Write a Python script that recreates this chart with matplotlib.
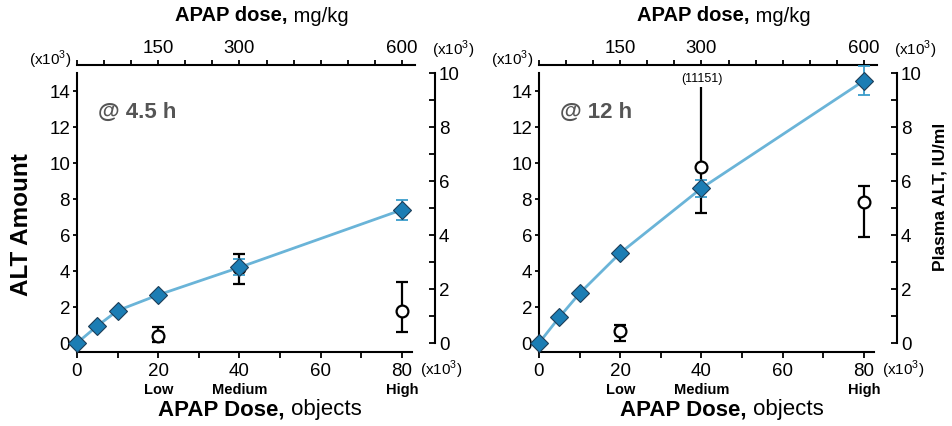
import matplotlib
matplotlib.use("Agg")
import matplotlib.pyplot as plt
from matplotlib.ticker import MultipleLocator, FixedLocator, FuncFormatter

plt.rcParams['font.family'] = ['Liberation Sans', 'DejaVu Sans']
plt.rcParams['mathtext.fontset'] = 'custom'
plt.rcParams['mathtext.rm'] = 'Liberation Sans'

# data
doses = [0, 5, 10, 20, 40, 80]               # objects (x10^3)
alt_45 = [0, 0.95, 1.8, 2.67, 4.2, 7.4]      # ALT amount (x10^3)
alt_45_err = [0, 0, 0, 0, 0.45, 0.55]
alt_12 = [0, 1.43, 2.76, 5.0, 8.6, 14.57]
alt_12_err = [0, 0, 0, 0, 0.47, 0.8]

groups = ['Low', 'Medium', 'High']
group_x = [20, 40, 80]
plasma_45 = [0.27, 2.77, 1.2]                # plasma ALT, IU/ml (x10^3)
plasma_45_hi = [0.58, 3.29, 2.27]
plasma_45_lo = [0.03, 2.19, 0.39]
plasma_12 = [0.45, 6.5, 5.23]
plasma_12_hi = [0.68, 11.151, 5.8]
plasma_12_lo = [0.06, 4.81, 3.91]

mgkg_ticks = [150, 300, 600]
times = ['@ 4.5 h', '@ 12 h']

W, H = 953, 427
fig = plt.figure(figsize=(W / 100, H / 100), dpi=100)
renderer = fig.canvas.get_renderer()

diam_face = '#1b7db4'
diam_edge = '#1d3d57'
line_c = '#6ab4d8'
err_blue = '#3a9dcb'
clip_top = 9.47  # where the off-scale error bar is cut
tick_fs = 13.5


def ftxt(x, y, s, **kw):
    return fig.text(x / W, 1 - y / H, s, **kw)


def two_part(xc, y, bold, normal, fs):
    # bold part then normal part, centred together on xc
    t1 = ftxt(0, y, bold, ha='left', va='center', fontsize=fs, fontweight='bold')
    t2 = ftxt(0, y, ' ' + normal, ha='left', va='center', fontsize=fs)
    w1 = t1.get_window_extent(renderer).width
    w2 = t2.get_window_extent(renderer).width
    x0 = xc - (w1 + w2) / 2
    t1.set_x(x0 / W)
    t2.set_x((x0 + w1) / W)


panels = [
    (0, alt_45, alt_45_err, plasma_45, plasma_45_hi, plasma_45_lo, times[0]),
    (462, alt_12, alt_12_err, plasma_12, plasma_12_hi, plasma_12_lo, times[1]),
]

ppu = 4.0625  # px per x unit
for i, (o, alt, alt_err, pl, pl_hi, pl_lo, lab) in enumerate(panels):
    ax = fig.add_axes([(77 + o) / W, (H - 353) / H, 84 * ppu / W, (353 - 66) / H])
    ax_r = ax.twinx()
    ax_t = ax.twiny()

    ax.set_xlim(0, 84)
    ax.set_ylim(-0.5, 15.44)
    ax_r.set_ylim(-0.5 / 1.5, 15.44 / 1.5)
    ax_t.set_xlim(0, 84 * 7.5)

    # plasma ALT (open circles, right axis)
    for x, y, hi, lo in zip(group_x, pl, pl_hi, pl_lo):
        top = min(hi, clip_top)
        if hi > clip_top:
            ax_r.errorbar([x], [y], yerr=[[y - lo], [0]], fmt='none', ecolor='black',
                          elinewidth=1.6, capsize=4.5, capthick=1.6, zorder=2)
            ax_r.vlines(x, y, top, color='black', lw=1.6, zorder=2)
            ax_r.text(x, top + 0.12, '(%d)' % round(hi * 1000), ha='center', va='bottom',
                      fontsize=9)
        else:
            ax_r.errorbar([x], [y], yerr=[[y - lo], [hi - y]], fmt='none', ecolor='black',
                          elinewidth=1.6, capsize=4.5, capthick=1.6, zorder=2)
    ax_r.plot(group_x, pl, 'o', ms=8.5, mfc='white', mec='black', mew=1.6,
              linestyle='none', zorder=3, clip_on=False)

    # ALT amount (diamonds, left axis)
    ax.set_zorder(ax_r.get_zorder() + 1)
    ax.patch.set_visible(False)
    ax.plot(doses, alt, color=line_c, lw=2, zorder=2, clip_on=False)
    ax.errorbar(doses, alt, yerr=alt_err, fmt='none', ecolor=err_blue, elinewidth=1.3,
                capsize=4.5, capthick=1.3, zorder=3)
    ax.plot(doses, alt, 'D', ms=9, mfc=diam_face, mec=diam_edge, mew=0.8,
            linestyle='none', zorder=4, clip_on=False)

    # spines
    for a in (ax, ax_r, ax_t):
        for s in a.spines.values():
            s.set_visible(False)
            s.set_linewidth(1.5)
    ax.spines['left'].set_visible(True)
    ax.spines['left'].set_bounds(0, 15)
    ax.spines['bottom'].set_visible(True)
    ax.spines['bottom'].set_bounds(0, 82.5)
    ax_r.spines['right'].set_visible(True)
    ax_r.spines['right'].set_bounds(0, 10)
    ax_r.spines['right'].set_position(('outward', 12))
    ax_t.spines['top'].set_visible(True)
    ax_t.spines['top'].set_bounds(0, 624)

    ax.set_yticks(range(0, 15, 2))
    ax.tick_params(axis='y', direction='out', length=3, width=1.3, labelsize=tick_fs, pad=2)
    ax.xaxis.set_major_locator(MultipleLocator(10))
    ax.xaxis.set_major_formatter(FuncFormatter(lambda v, p: '%d' % v if v % 20 == 0 else ''))
    ax.tick_params(axis='x', direction='out', length=4, width=1.3, labelsize=tick_fs, pad=3)

    ax_r.yaxis.set_major_locator(MultipleLocator(1))
    ax_r.yaxis.set_major_formatter(FuncFormatter(lambda v, p: '%d' % v if v % 2 == 0 else ''))
    ax_r.tick_params(axis='y', direction='in', length=4, width=1.3, labelsize=tick_fs, pad=3)

    ax_t.xaxis.set_major_locator(FixedLocator(mgkg_ticks))
    ax_t.xaxis.set_minor_locator(MultipleLocator(50))
    ax_t.tick_params(axis='x', which='both', direction='out', length=3.5, width=1.3,
                     labelsize=tick_fs, pad=3)

    for gx, g in zip(group_x, groups):
        ax.text(gx, -0.13, g, transform=ax.get_xaxis_transform(), ha='center', va='center',
                fontsize=10.5, fontweight='bold')

    ax.text(21 / ppu / 84, (353 - 112) / 287, lab, transform=ax.transAxes, ha='left',
            va='center', fontsize=16, fontweight='bold', color='#555555')

    two_part(262 + o, 16, 'APAP dose,', 'mg/kg', 14.5)
    two_part(260 + o, 410, 'APAP Dose,', 'objects', 16)
    ftxt(50 + o, 60, r'(x10$^3$)', ha='center', va='center', fontsize=11)
    ftxt(453 + o, 50, r'(x10$^3$)', ha='center', va='center', fontsize=11)
    ftxt(441 + o, 370, r'(x10$^3$)', ha='center', va='center', fontsize=11)

ftxt(22, 225, 'ALT Amount', rotation=90, ha='center', va='center', fontsize=17.5,
     fontweight='bold')
ftxt(940, 197, 'Plasma ALT, IU/ml', rotation=90, ha='center', va='center', fontsize=12.5,
     fontweight='bold')

fig.savefig('out.png', dpi=100)
